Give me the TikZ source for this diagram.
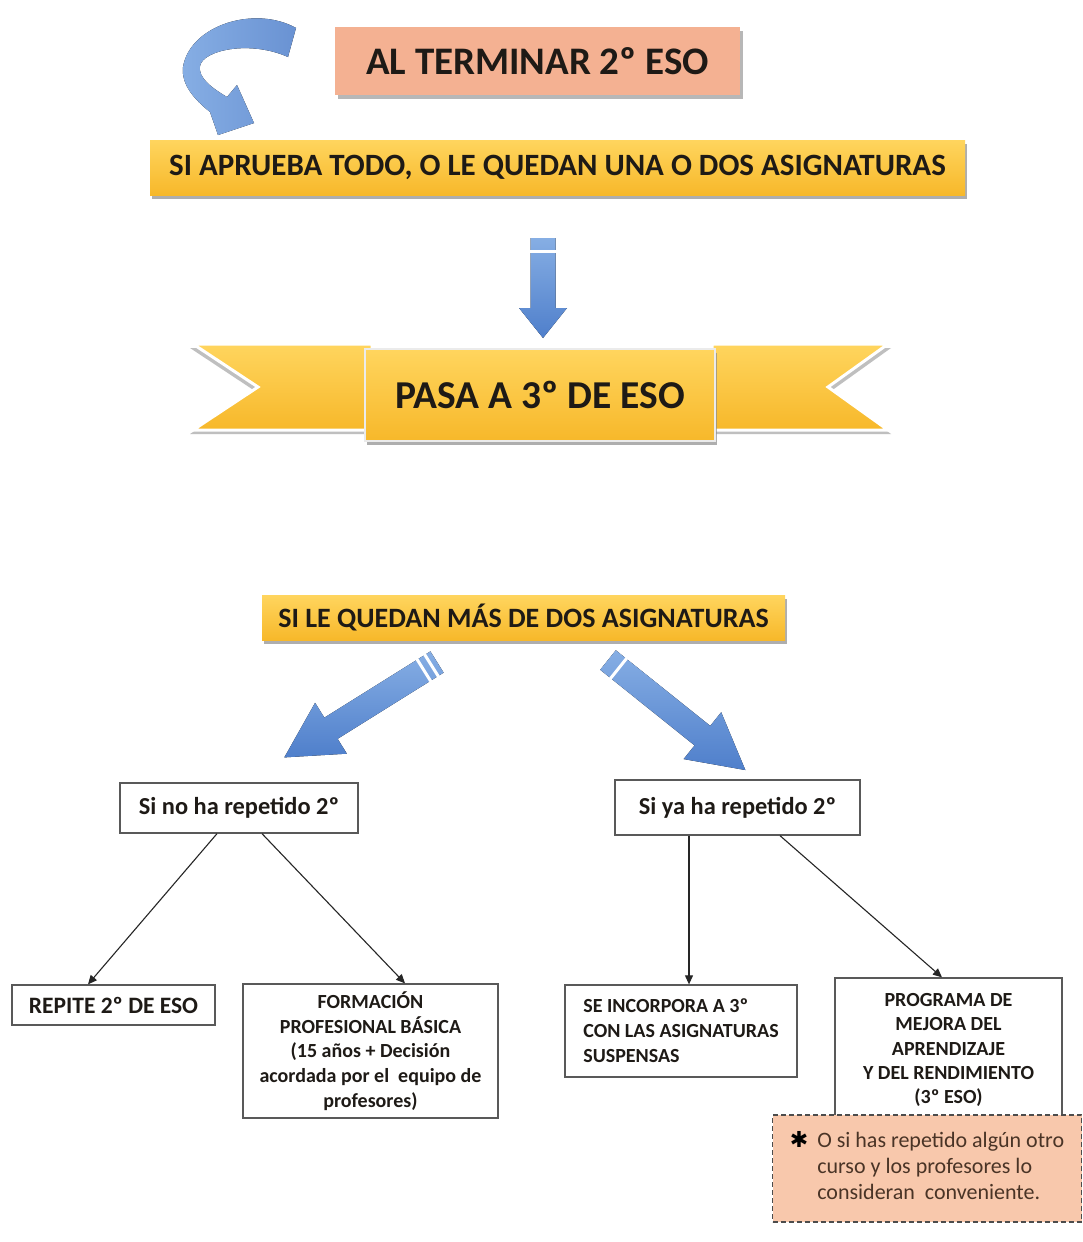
\documentclass[tikz,border=0pt]{standalone}
\usepackage{fontspec}
\setmainfont{Carlito}
\newfontfamily\dejavu{DejaVu Sans}
\usetikzlibrary{arrows.meta,shadows,calc}
\definecolor{salmon}{HTML}{F4B192}
\definecolor{notefill}{HTML}{F8C8AC}
\definecolor{yelA}{HTML}{FFD55E}
\definecolor{yelB}{HTML}{F7B82A}
\definecolor{blueL}{HTML}{86AEE4}
\definecolor{blueD}{HTML}{4F7FCB}
\definecolor{txt}{HTML}{1E1A16}
\definecolor{notetxt}{HTML}{4A3426}
\newcommand\fatarrow[6]{% tail, angle, length, shaft half width, head half width, head length
  \begin{scope}[shift={(#1)},rotate=#2]
    \fill[top color=blueL,bottom color=blueD] (0,-#4) -- ({#3-#6},-#4) -- ({#3-#6},-#5) -- (#3,0) -- ({#3-#6},#5) -- ({#3-#6},#4) -- (0,#4) -- cycle;
  \end{scope}}
\begin{document}
\begin{tikzpicture}[x=1pt,y=-1pt,
  boxplain/.style={draw=black!65,line width=1.3pt,fill=white,inner sep=0pt,text=txt,font=\bfseries},
  yelbox/.style={top color=yelA,bottom color=yelB,inner sep=0pt,text=txt,font=\bfseries,
     drop shadow={shadow xshift=2pt,shadow yshift=-4pt,fill=black!45,opacity=0.7}},
  conn/.style={draw=black!85,line width=1.1pt,-{Triangle[length=9pt,width=8pt]}}]
\useasboundingbox[fill=white] (0,0) rectangle (1082,1242);

% title
\node[fill=salmon,inner sep=0pt,minimum width=405pt,minimum height=68pt,text=txt,
  font=\fontsize{39}{44}\selectfont\bfseries,
  drop shadow={shadow xshift=3pt,shadow yshift=-4pt,fill=black!40,opacity=0.7}] (title) at (537.5,61) {AL TERMINAR 2º ESO};

% curved arrow
\fill[left color=blueL,right color=blueD!85]
  (296,28) .. controls (255,5) and (190,25) .. (183,67)
  .. controls (181,85) and (195,100) .. (210,112)
  -- (218,135) -- (254,123) -- (237,85) -- (227,97)
  .. controls (212,88) and (198,78) .. (200,66)
  .. controls (203,50) and (250,40) .. (288,57) -- cycle;

% banner 1
\node[yelbox,minimum width=815pt,minimum height=55pt,font=\fontsize{31}{36}\selectfont\bfseries] (b1) at (557.5,167.5) {SI APRUEBA TODO, O LE QUEDAN UNA O DOS ASIGNATURAS};

% down arrow
\fatarrow{543,238}{-90}{100}{12.5}{24}{30}
\fill[white] (528,250) rectangle (558,252.5);

% ribbon tails
\fill[black!25] (190,348) -- (372,348) -- (372,434) -- (190,434) -- (255,391) -- cycle;
\fill[black!25] (712,348) -- (891,348) -- (831,391) -- (891,434) -- (712,434) -- cycle;
\path[top color=yelA,bottom color=yelB,draw=white,line width=3pt] (193,344) -- (372,344) -- (372,430) -- (193,430) -- (258,387) -- cycle;
\path[top color=yelA,bottom color=yelB,draw=white,line width=3pt] (712,344) -- (888,344) -- (828,387) -- (888,430) -- (712,430) -- cycle;
\node[yelbox,draw=white!92!black,line width=2.5pt,minimum width=350pt,minimum height=92pt,font=\fontsize{39.5}{44}\selectfont\bfseries] (pasa) at (540,395) {PASA A 3º DE ESO};

% banner 2
\node[yelbox,minimum width=523pt,minimum height=45pt,font=\fontsize{28}{32}\selectfont\bfseries] (b2) at (523.5,617.5) {SI LE QUEDAN MÁS DE DOS ASIGNATURAS};

% diagonal arrows
\fatarrow{437,662}{212}{180}{12.5}{30}{55}
\fatarrow{608,660}{-38.7}{176}{12.5}{30}{55}
\begin{scope}[shift={(437,662)},rotate=212]
  \fill[white] (5,-14) rectangle (8,14);
  \fill[white] (14,-14) rectangle (17,14);
\end{scope}
\begin{scope}[shift={(608,660)},rotate=-38.7]
  \fill[white] (12,-14) rectangle (15,14);
\end{scope}

% level boxes
\node[boxplain,minimum width=238pt,minimum height=50pt,font=\fontsize{24.4}{28}\selectfont\bfseries] (norep) at (239,808) {Si no ha repetido 2º};
\node[boxplain,minimum width=245pt,minimum height=55pt,font=\fontsize{24.4}{28}\selectfont\bfseries] (yarep) at (737.5,807.5) {Si ya ha repetido 2º};

\node[boxplain,minimum width=203pt,minimum height=40pt,font=\fontsize{23.5}{27}\selectfont\bfseries] (repite) at (113.5,1005) {REPITE 2º DE ESO};
\node[boxplain,minimum width=255pt,minimum height=134pt,align=center,font=\fontsize{20}{24.6}\selectfont\bfseries] (fpb) at (370.5,1051) {FORMACIÓN\\PROFESIONAL BÁSICA\\(15 años + Decisión\\acordada por el\ \ equipo de\\profesores)};
\node[boxplain,minimum width=232pt,minimum height=92pt,align=left,font=\fontsize{20}{25}\selectfont\bfseries] (seinc) at (681,1031) {SE INCORPORA A 3º\\CON LAS ASIGNATURAS\\SUSPENSAS};
\node[boxplain,minimum width=227pt,minimum height=144pt,align=center,font=\fontsize{20}{24.4}\selectfont\bfseries] (pmar) at (948.5,1050) {PROGRAMA DE\\MEJORA DEL\\APRENDIZAJE\\Y DEL RENDIMIENTO\\(3º ESO)};

\node[fill=notefill,draw=black!70,line width=1.3pt,dash pattern=on 5pt off 3pt,minimum width=309pt,minimum height=107pt,inner sep=0pt,text=notetxt] (note) at (927,1168.5)
 {\fontsize{22}{26}\selectfont\begin{tabular}{@{}l@{\hspace{9pt}}l@{}}{\dejavu\bfseries\color{black}\fontsize{22}{26}\selectfont ✱} & O si has repetido algún otro\\ & curso y los profesores lo\\ & consideran\ \ conveniente.\end{tabular}};

% connectors
\draw[conn] ([xshift=-22pt]norep.south) -- ([xshift=-25.5pt]repite.north);
\draw[conn] ([xshift=23pt]norep.south) -- ([xshift=34.5pt]fpb.north);
\draw[conn] ([xshift=-48.5pt]yarep.south) -- ([xshift=8pt]seinc.north);
\draw[conn] ([xshift=42.5pt]yarep.south) -- ([xshift=-6.5pt]pmar.north);
\end{tikzpicture}
\end{document}
